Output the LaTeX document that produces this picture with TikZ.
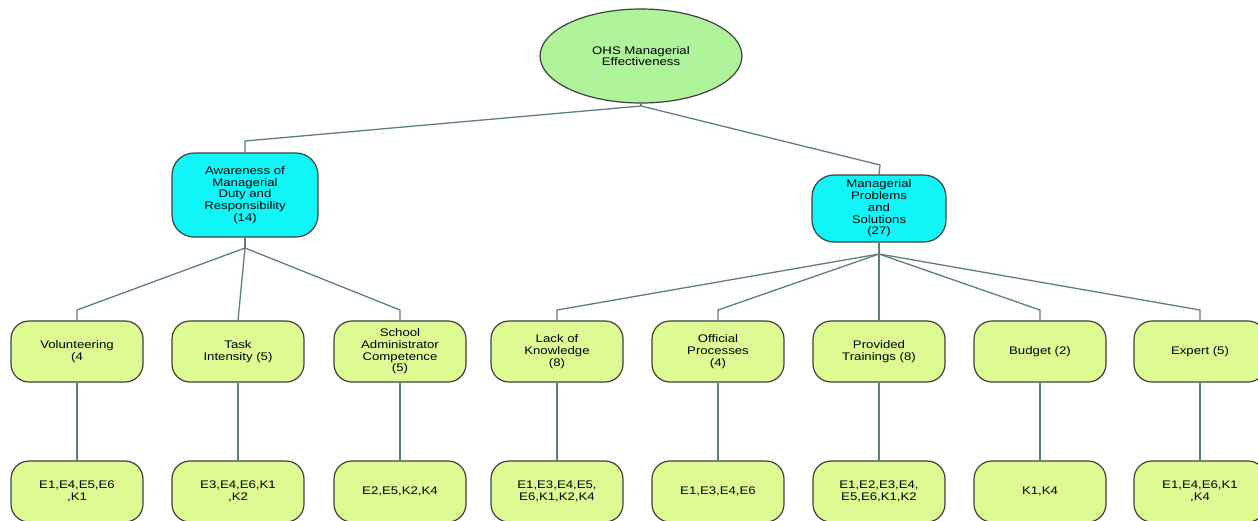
\documentclass[tikz,border=0pt]{standalone}
\usepackage{fontspec}
\setmainfont{Liberation Sans}[FakeStretch=1.2]
\usetikzlibrary{shapes.geometric}
\definecolor{rootgreen}{HTML}{AFF39A}
\definecolor{boxcyan}{HTML}{10F5F8}
\definecolor{leafgreen}{HTML}{DEFA92}
\definecolor{conncol}{HTML}{5F7F7F}
\definecolor{bordercol}{HTML}{404040}
\tikzset{
  txt/.style={font=\fontsize{11}{11.7}\selectfont, align=center, text=black},
  rootnode/.style={txt, ellipse, draw=bordercol, line width=1.2pt, fill=rootgreen, minimum width=202pt, minimum height=94pt, inner sep=0pt},
  catnode/.style={txt, draw=bordercol, line width=1.2pt, fill=boxcyan, rounded corners=22pt, inner sep=0pt},
  leafnode/.style={txt, draw=bordercol, line width=1.2pt, fill=leafgreen, rounded corners=18pt, minimum width=132pt, minimum height=61pt, inner sep=0pt},
  conn/.style={draw=conncol, line width=1.3pt},
}
\begin{document}
\begin{tikzpicture}[x=1pt,y=-1pt]
\useasboundingbox (0,0) rectangle (1258,520);
\clip (0,0) rectangle (1258,520);
\fill[white] (0,0) rectangle (1258,520);

% root
\node[rootnode] (root) at (641,56) {OHS Managerial\\Effectiveness};

% categories
\node[catnode, minimum width=146pt, minimum height=84pt] (aware) at (245,195) {Awareness of\\Managerial\\Duty and\\Responsibility\\(14)};
\node[catnode, minimum width=134pt, minimum height=67pt] (prob) at (879,208.5) {Managerial\\Problems\\and\\Solutions\\(27)};

% second level
\node[leafnode] (vol) at (77,351.5) {Volunteering\\(4};
\node[leafnode] (task) at (238,351.5) {Task\\Intensity (5)};
\node[leafnode] (school) at (400,351.5) {School\\Administrator\\Competence\\(5)};
\node[leafnode] (lack) at (557,351.5) {Lack of\\Knowledge\\(8)};
\node[leafnode] (offi) at (718,351.5) {Official\\Processes\\(4)};
\node[leafnode] (prov) at (879,351.5) {Provided\\Trainings (8)};
\node[leafnode] (budg) at (1040,351.5) {Budget (2)};
\node[leafnode] (expe) at (1200,351.5) {Expert (5)};

% third level
\node[leafnode] (volE) at (77,491.5) {E1,E4,E5,E6\\,K1};
\node[leafnode] (taskE) at (238,491.5) {E3,E4,E6,K1\\,K2};
\node[leafnode] (schoolE) at (400,491.5) {E2,E5,K2,K4};
\node[leafnode] (lackE) at (557,491.5) {E1,E3,E4,E5,\\E6,K1,K2,K4};
\node[leafnode] (offiE) at (718,491.5) {E1,E3,E4,E6};
\node[leafnode] (provE) at (879,491.5) {E1,E2,E3,E4,\\E5,E6,K1,K2};
\node[leafnode] (budgE) at (1040,491.5) {K1,K4};
\node[leafnode] (expeE) at (1200,491.5) {E1,E4,E6,K1\\,K4};

% junction coordinates
\coordinate (j0) at (641,106);
\coordinate (aL) at (245,141);
\coordinate (aR) at (880,165);
\coordinate (j1) at (245,248);
\coordinate (b1) at (77,310);
\coordinate (b3) at (400,310);
\coordinate (j2) at (879,254);
\coordinate (c1) at (557,310);
\coordinate (c2) at (718,310);
\coordinate (c4) at (1040,310);
\coordinate (c5) at (1200,310);

% connectors
\draw[conn] (root.south) -- (j0);
\draw[conn] (j0) -- (aL) -- (aware.north);
\draw[conn] (j0) -- (aR) -- (prob.north);

\draw[conn] (aware.south) -- (j1);
\draw[conn] (j1) -- (b1) -- (vol.north);
\draw[conn] (j1) -- (task.north);
\draw[conn] (j1) -- (b3) -- (school.north);

\draw[conn] (prob.south) -- (j2);
\draw[conn] (j2) -- (c1) -- (lack.north);
\draw[conn] (j2) -- (c2) -- (offi.north);
\draw[conn] (j2) -- (prov.north);
\draw[conn] (j2) -- (c4) -- (budg.north);
\draw[conn] (j2) -- (c5) -- (expe.north);

\draw[conn] (vol.south) -- (volE.north);
\draw[conn] (task.south) -- (taskE.north);
\draw[conn] (school.south) -- (schoolE.north);
\draw[conn] (lack.south) -- (lackE.north);
\draw[conn] (offi.south) -- (offiE.north);
\draw[conn] (prov.south) -- (provE.north);
\draw[conn] (budg.south) -- (budgE.north);
\draw[conn] (expe.south) -- (expeE.north);
\end{tikzpicture}
\end{document}
